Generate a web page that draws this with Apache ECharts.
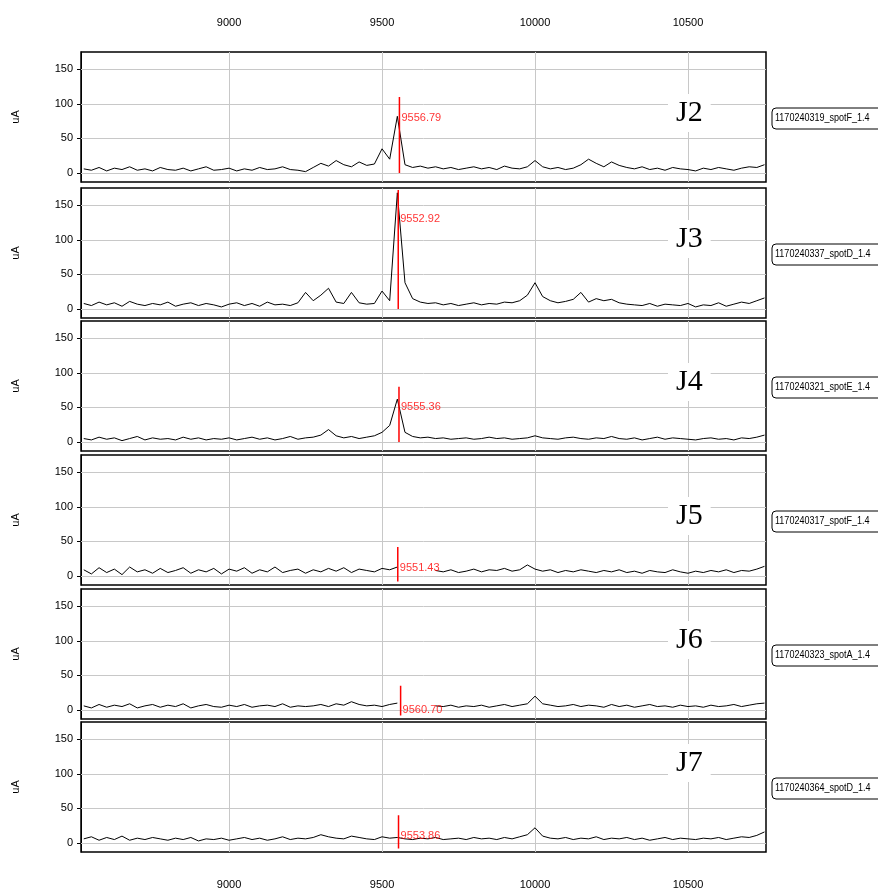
<!DOCTYPE html>
<html>
<head>
<meta charset="utf-8">
<script src="https://cdn.jsdelivr.net/npm/echarts@6/dist/echarts.min.js"></script>
<style>html,body{margin:0;padding:0;background:#fff}#map{width:878px;height:895px}</style>
</head>
<body>
<div id="map"></div>
<script>
// x positions: 8525 .. 10750 every 25
var mass = [];
for (var m = 8525; m <= 10750; m += 25) mass.push(m);

var yJ2 = [6,4,8,3,7,5,9,4,6,3, 8,5,4,7,3,6,9,4,5,7, 3,6,4,8,5,6,9,5,4,2,
	8,14,10,18,12,9,16,11,13,35, 20,82,12,8,10,7,9,6,8,5, 7,9,6,8,5,10,7,6,9,18,
	9,6,8,5,7,12,20,14,9,16, 11,8,6,9,5,7,4,8,6,5, 3,7,5,8,6,4,7,9,8,12];
var yJ3 = [8,5,10,6,9,4,11,7,5,8, 6,10,4,7,9,5,8,6,3,7, 9,5,8,4,10,6,7,5,9,24,
	12,20,30,10,8,24,9,7,8,26, 12,168,38,15,10,8,9,6,8,5, 7,9,6,8,7,10,9,12,20,38,
	18,12,9,11,14,24,10,15,12,14, 9,7,6,5,8,4,7,6,5,8, 3,6,5,9,4,7,10,8,12,16];
var yJ4 = [5,3,7,4,6,2,5,8,3,6, 4,5,3,7,4,6,3,5,4,6, 3,5,7,4,6,3,5,8,4,6,
	7,10,18,9,6,8,5,7,9,14, 24,62,14,8,6,7,5,6,4,5, 6,4,5,7,5,6,4,5,6,9,
	6,5,4,6,7,5,4,6,5,8, 5,4,6,3,5,7,4,6,5,4, 3,5,6,4,5,3,6,5,7,10];
var yJ5 = [9,3,12,5,10,2,13,6,9,4, 11,5,8,12,4,9,6,11,3,10, 7,12,4,9,6,13,5,8,10,4,
	9,6,11,7,12,5,10,8,6,11, 9,13,null,null,null,null,8,6,9,5, 7,10,6,9,8,11,7,9,16,10,
	7,9,5,8,6,9,7,5,8,6, 9,5,7,4,8,6,5,9,6,4, 7,5,8,6,9,5,8,7,10,14];
var yJ6 = [6,3,8,4,7,5,9,3,6,8, 4,7,5,9,3,6,8,5,4,7, 5,8,4,6,7,5,9,4,6,5,
	6,8,5,9,7,12,8,6,7,5, 8,10,null,null,null,null,6,5,7,4, 6,5,7,4,6,8,5,7,9,20,
	9,7,5,6,8,5,7,6,4,8, 5,7,4,6,8,5,6,4,7,5, 6,4,7,5,6,8,5,7,9,10];
var yJ7 = [6,9,4,8,5,10,4,7,5,8, 6,4,7,5,8,3,6,5,7,4, 6,8,5,7,4,6,9,5,7,6,
	8,12,9,7,6,10,8,6,5,9, 7,8,6,5,7,6,8,5,6,7, 5,8,6,7,5,8,6,9,12,22,
	10,7,6,8,5,7,6,9,5,7, 6,8,5,7,4,6,8,5,7,6, 5,7,6,8,5,7,9,8,11,16];

var panelY = [yJ2, yJ3, yJ4, yJ5, yJ6, yJ7];
var panelNames = ['J2', 'J3', 'J4', 'J5', 'J6', 'J7'];
var spotNames = ['1170240319_spotF_1.4', '1170240337_spotD_1.4', '1170240321_spotE_1.4',
	'1170240317_spotF_1.4', '1170240323_spotA_1.4', '1170240364_spotD_1.4'];
var peakMass = [9556.79, 9552.92, 9555.36, 9551.43, 9560.70, 9553.86];
var markTop = [110, 172, 80, 42, 35, 40];
var markBottom = [0, 0, 0, -8, -8, -8];
var labelY = [80, 130, 50, 12, 0, 10];
var xTicks = [9000, 9500, 10000, 10500];
var yTicks = [0, 50, 100, 150];

var tops = [52, 188, 321, 455, 589, 722];
var H = 130;
var font = "'Liberation Sans', Arial, sans-serif";

var grid = [], xAxis = [], yAxis = [], series = [], graphic = [];
for (var p = 0; p < 6; p++) {
	grid.push({left: 81, right: 112, top: tops[p], height: H, show: true, borderColor: '#000', borderWidth: 1.5, backgroundColor: '#fff'});
	xAxis.push({
		gridIndex: p, type: 'value', min: 8516, max: 10755,
		position: p === 5 ? 'bottom' : 'top',
		axisLine: {show: false}, axisTick: {show: false}, splitLine: {show: false},
		axisLabel: {show: p === 0 || p === 5, customValues: xTicks, color: '#000', fontSize: 11, fontFamily: font,
			margin: p === 0 ? 24 : 27, formatter: function (v) { return String(v); }}
	});
	yAxis.push({
		gridIndex: p, type: 'value', min: -13, max: 175,
		name: 'uA', nameLocation: 'middle', nameGap: 60, nameRotate: 90,
		nameTextStyle: {color: '#000', fontSize: 11, fontFamily: font},
		axisLine: {show: true, lineStyle: {color: '#000'}},
		axisTick: {show: true, customValues: yTicks, length: 4, lineStyle: {color: '#000'}},
		splitLine: {show: false},
		axisLabel: {customValues: yTicks, color: '#000', fontSize: 11, fontFamily: font}
	});
	var d = [];
	for (var i = 0; i < mass.length; i++) d.push([mass[i], panelY[p][i]]);
	var gl = [];
	xTicks.forEach(function (v) { gl.push({xAxis: v}); });
	yTicks.forEach(function (v) { gl.push({yAxis: v}); });
	series.push({
		type: 'line', xAxisIndex: p, yAxisIndex: p, data: d, symbol: 'none',
		lineStyle: {color: '#000', width: 1}, connectNulls: false, z: 3,
		markLine: {silent: true, symbol: 'none', label: {show: false}, animation: false,
			lineStyle: {color: '#c8c8c8', type: 'solid', width: 1}, data: gl, z: 1}
	});
	series.push({
		type: 'line', xAxisIndex: p, yAxisIndex: p, symbol: 'none', z: 4,
		data: [[peakMass[p], markBottom[p]], [peakMass[p], markTop[p]]],
		lineStyle: {color: '#ff0000', width: 1.5}
	});
	series.push({
		type: 'scatter', xAxisIndex: p, yAxisIndex: p, symbolSize: 0, z: 5,
		data: [[peakMass[p], labelY[p]]],
		label: {show: true, position: 'right', distance: 2, color: '#ff0000', fontSize: 11, fontFamily: font,
			formatter: peakMass[p].toFixed(2)}
	});
	var cy = tops[p] + 66;
	graphic.push({type: 'text', left: 668, top: cy - 24 + (p === 1 ? -10 : p === 4 ? -10 : p === 5 ? -20 : 0),
		style: {text: panelNames[p], font: '30px "Liberation Serif", "Times New Roman", serif', fill: '#000',
			backgroundColor: '#fff', padding: [4, 8]}, z: 10});
	graphic.push({type: 'rect', shape: {x: 772, y: cy - 10, width: 120, height: 21, r: 4},
		style: {fill: '#fff', stroke: '#000', lineWidth: 1}, z: 10});
	graphic.push({type: 'text', x: 775, y: cy, scaleX: 0.82,
		style: {text: spotNames[p], font: '11px ' + font, fill: '#000', verticalAlign: 'middle'}, z: 11});
}

var myChart = echarts.init(document.getElementById('map'));
myChart.setOption({animation: false, grid: grid, xAxis: xAxis, yAxis: yAxis, series: series, graphic: graphic});
</script>
</body>
</html>
